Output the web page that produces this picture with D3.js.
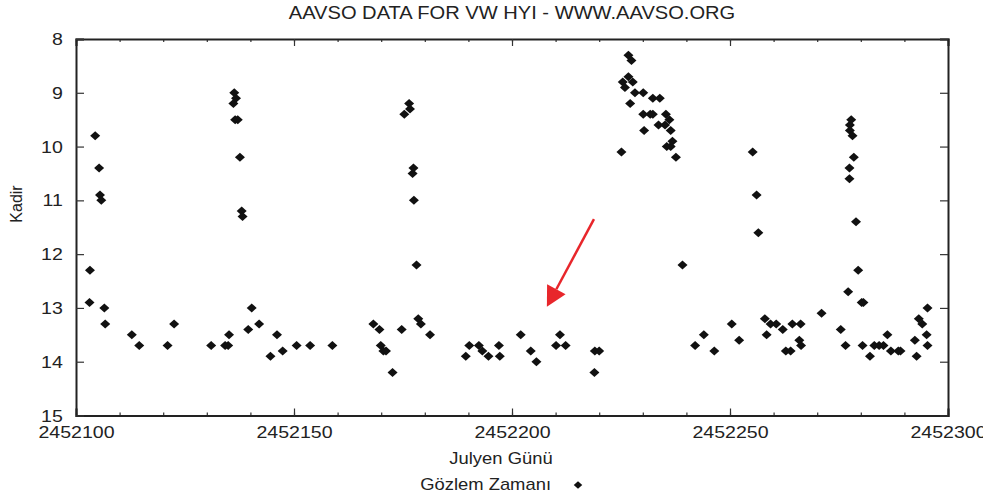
<!DOCTYPE html>
<html>
<head>
<meta charset="utf-8">
<script src="https://cdn.jsdelivr.net/npm/d3@7"></script>
<style>
  body { margin: 0; background: #fff; }
  svg { display: block; }
  text { font-family: "Liberation Sans", Arial, Helvetica, sans-serif; fill: #222; }
</style>
</head>
<body>
<script>
// Chart texts
const titleText = "AAVSO DATA FOR VW HYI - WWW.AAVSO.ORG";
const xLabel = "Julyen Günü";
const yLabel = "Kadir";
const legendLabel = "Gözlem Zamanı";

// Axis ticks
const xMajorTicks = [2452100, 2452150, 2452200, 2452250, 2452300];
const yTicks = [8, 9, 10, 11, 12, 13, 14, 15];

const jd = [
  2452103.2, 2452103.1, 2452104.4, 2452105.3, 2452105.5, 2452105.8, 2452106.5, 2452106.7,
  2452112.8, 2452114.5, 2452121.0, 2452122.5, 2452131.0, 2452134.2, 2452134.9, 2452135.1,
  2452136.3, 2452136.7, 2452136.1, 2452136.5, 2452137.1, 2452137.6, 2452138.0, 2452138.2,
  2452139.5, 2452140.3, 2452142.0, 2452144.6, 2452146.1, 2452147.4, 2452150.6, 2452153.7,
  2452158.8, 2452168.2, 2452169.6, 2452169.9, 2452170.5, 2452171.1, 2452172.6, 2452174.7,
  2452175.3, 2452176.4, 2452176.6, 2452177.2, 2452177.4, 2452177.5, 2452178.1, 2452178.5,
  2452179.1, 2452181.2, 2452189.4, 2452190.2, 2452192.4, 2452193.2, 2452194.6, 2452197.0,
  2452197.2, 2452202.0, 2452204.3, 2452205.6, 2452210.1, 2452211.0, 2452212.3, 2452218.9,
  2452219.0, 2452220.0, 2452225.1, 2452225.4, 2452225.9, 2452226.7, 2452226.7, 2452227.1,
  2452227.4, 2452227.7, 2452228.2, 2452230.1, 2452230.1, 2452230.3, 2452231.7, 2452232.3,
  2452232.3, 2452233.6, 2452233.9, 2452235.1, 2452235.3, 2452235.5, 2452236.1, 2452236.4,
  2452236.4, 2452236.8, 2452237.6, 2452239.1, 2452242.0, 2452244.0, 2452246.4, 2452250.4,
  2452252.1, 2452255.2, 2452256.1, 2452256.5, 2452258.0, 2452258.4, 2452259.3, 2452260.6,
  2452262.1, 2452262.8, 2452263.9, 2452264.3, 2452265.9, 2452266.2, 2452266.3, 2452271.0,
  2452275.4, 2452276.5, 2452277.1, 2452277.4, 2452277.4, 2452277.5, 2452277.5, 2452277.8,
  2452278.1, 2452278.4, 2452278.9, 2452279.4, 2452280.2, 2452280.6, 2452280.4, 2452282.1,
  2452283.1, 2452284.2, 2452285.2, 2452286.1, 2452286.9, 2452288.6, 2452289.1, 2452292.4,
  2452292.8, 2452293.3, 2452294.1, 2452295.1, 2452295.3, 2452295.3
];
const mag = [
  12.3, 12.9, 9.8, 10.4, 10.9, 11.0, 13.0, 13.3,
  13.5, 13.7, 13.7, 13.3, 13.7, 13.7, 13.7, 13.5,
  9.0, 9.1, 9.2, 9.5, 9.5, 10.2, 11.2, 11.3,
  13.4, 13.0, 13.3, 13.9, 13.5, 13.8, 13.7, 13.7,
  13.7, 13.3, 13.4, 13.7, 13.8, 13.8, 14.2, 13.4,
  9.4, 9.2, 9.3, 10.5, 10.4, 11.0, 12.2, 13.2,
  13.3, 13.5, 13.9, 13.7, 13.7, 13.8, 13.9, 13.7,
  13.9, 13.5, 13.8, 14.0, 13.7, 13.5, 13.7, 14.2,
  13.8, 13.8, 10.1, 8.8, 8.9, 8.3, 8.7, 9.2,
  8.4, 8.8, 9.0, 9.0, 9.4, 9.7, 9.4, 9.4,
  9.1, 9.6, 9.1, 9.6, 9.4, 10.0, 9.5, 9.7,
  10.0, 9.9, 10.2, 12.2, 13.7, 13.5, 13.8, 13.3,
  13.6, 10.1, 10.9, 11.6, 13.2, 13.5, 13.3, 13.3,
  13.4, 13.8, 13.8, 13.3, 13.6, 13.3, 13.7, 13.1,
  13.4, 13.7, 12.7, 10.4, 10.6, 9.6, 9.7, 9.5,
  9.8, 10.2, 11.4, 12.3, 12.9, 12.9, 13.7, 13.9,
  13.7, 13.7, 13.7, 13.5, 13.8, 13.8, 13.8, 13.6,
  13.9, 13.2, 13.3, 13.5, 13.0, 13.7
];

// Red arrow annotation: from [jd, mag] to [jd, mag]
const arrowFrom = [2452218.8, 11.35];
const arrowTo = [2452208.0, 12.98];

// SVG dimensions
const outerWidth = 983, outerHeight = 497;
const plotLeft = 76, plotRight = 948, plotTop = 39, plotBottom = 415.5;
const stretch = "scale(1.15,1)";

const svg = d3.select("body")
    .append("svg")
    .attr("width", outerWidth)
    .attr("height", outerHeight);

// Scales
const x = d3.scaleLinear()
    .domain([2452100, 2452300])
    .range([plotLeft, plotRight]);
const y = d3.scaleLinear()
    .domain([8, 15])
    .range([plotTop, plotBottom]);

const minorTicks = d3.range(2452100, 2452301, 10);

// Minor ticks (top and bottom, pointing inwards)
svg.append("g")
    .attr("transform", `translate(0, ${plotBottom})`)
    .call(d3.axisTop(x).tickValues(minorTicks).tickSize(3).tickFormat(""))
    .call(g => g.select(".domain").remove());
svg.append("g")
    .attr("transform", `translate(0, ${plotTop})`)
    .call(d3.axisBottom(x).tickValues(minorTicks).tickSize(3).tickFormat(""))
    .call(g => g.select(".domain").remove());

// Major x ticks
const xAxis = svg.append("g")
    .attr("transform", `translate(0, ${plotBottom})`)
    .call(d3.axisTop(x).tickValues(xMajorTicks).tickSize(7).tickFormat(d3.format("d")));
xAxis.selectAll("text")
    .attr("y", 23)
    .attr("dy", 0)
    .attr("transform", stretch)
    .style("font-size", "17px");
svg.append("g")
    .attr("transform", `translate(0, ${plotTop})`)
    .call(d3.axisBottom(x).tickValues(xMajorTicks).tickSize(7).tickFormat(""));

// Y ticks
const yAxis = svg.append("g")
    .attr("transform", `translate(${plotLeft}, 0)`)
    .call(d3.axisRight(y).tickValues(yTicks).tickSize(8).tickFormat(d3.format("d")));
yAxis.selectAll("text")
    .attr("x", -11.5)
    .attr("text-anchor", "end")
    .attr("dy", "0.33em")
    .attr("transform", stretch)
    .style("font-size", "17px");
svg.append("g")
    .attr("transform", `translate(${plotRight}, 0)`)
    .call(d3.axisLeft(y).tickValues(yTicks).tickSize(8).tickFormat(""));

svg.selectAll(".domain").attr("stroke", "#222").attr("stroke-width", 2);
svg.selectAll(".tick line").attr("stroke", "#333").attr("stroke-width", 1.2);
svg.selectAll(".tick text").attr("fill", "#222").style("font-family", "'Liberation Sans', Arial, sans-serif");

// Diamond marker
const diamond = "M0,-4.5L5,0L0,4.5L-5,0Z";

svg.append("g")
    .selectAll("path")
    .data(d3.range(jd.length))
    .join("path")
    .attr("d", diamond)
    .attr("transform", i => `translate(${x(jd[i])}, ${y(mag[i])})`)
    .attr("fill", "#111");

// Title
svg.append("text")
    .attr("transform", `translate(512, 19) ${stretch}`)
    .attr("text-anchor", "middle")
    .style("font-size", "17.5px")
    .attr("fill", "#333")
    .text(titleText);

// Axis labels
svg.append("text")
    .attr("transform", `translate(501, 464) ${stretch}`)
    .attr("text-anchor", "middle")
    .style("font-size", "16px")
    .text(xLabel);
svg.append("text")
    .attr("transform", "translate(22, 204) rotate(-90)")
    .attr("text-anchor", "middle")
    .style("font-size", "16px")
    .text(yLabel);

// Legend
svg.append("text")
    .attr("transform", `translate(551, 490) ${stretch}`)
    .attr("text-anchor", "end")
    .style("font-size", "16px")
    .text(legendLabel);
svg.append("path")
    .attr("d", diamond)
    .attr("transform", "translate(578, 485) scale(0.85)")
    .attr("fill", "#111");

// Red arrow annotation
const ax0 = x(arrowFrom[0]), ay0 = y(arrowFrom[1]);
const ax1 = x(arrowTo[0]), ay1 = y(arrowTo[1]);
const len = Math.hypot(ax1 - ax0, ay1 - ay0);
const ux = (ax1 - ax0) / len, uy = (ay1 - ay0) / len;
const headLen = 20, headHalf = 10.5;
const bx = ax1 - ux * headLen, by = ay1 - uy * headLen;
svg.append("line")
    .attr("x1", ax0).attr("y1", ay0)
    .attr("x2", bx).attr("y2", by)
    .attr("stroke", "#e8262b")
    .attr("stroke-width", 2.5);
svg.append("path")
    .attr("d", `M${ax1},${ay1}L${bx - uy * headHalf},${by + ux * headHalf}L${bx + uy * headHalf},${by - ux * headHalf}Z`)
    .attr("fill", "#e8262b");
</script>
</body>
</html>
